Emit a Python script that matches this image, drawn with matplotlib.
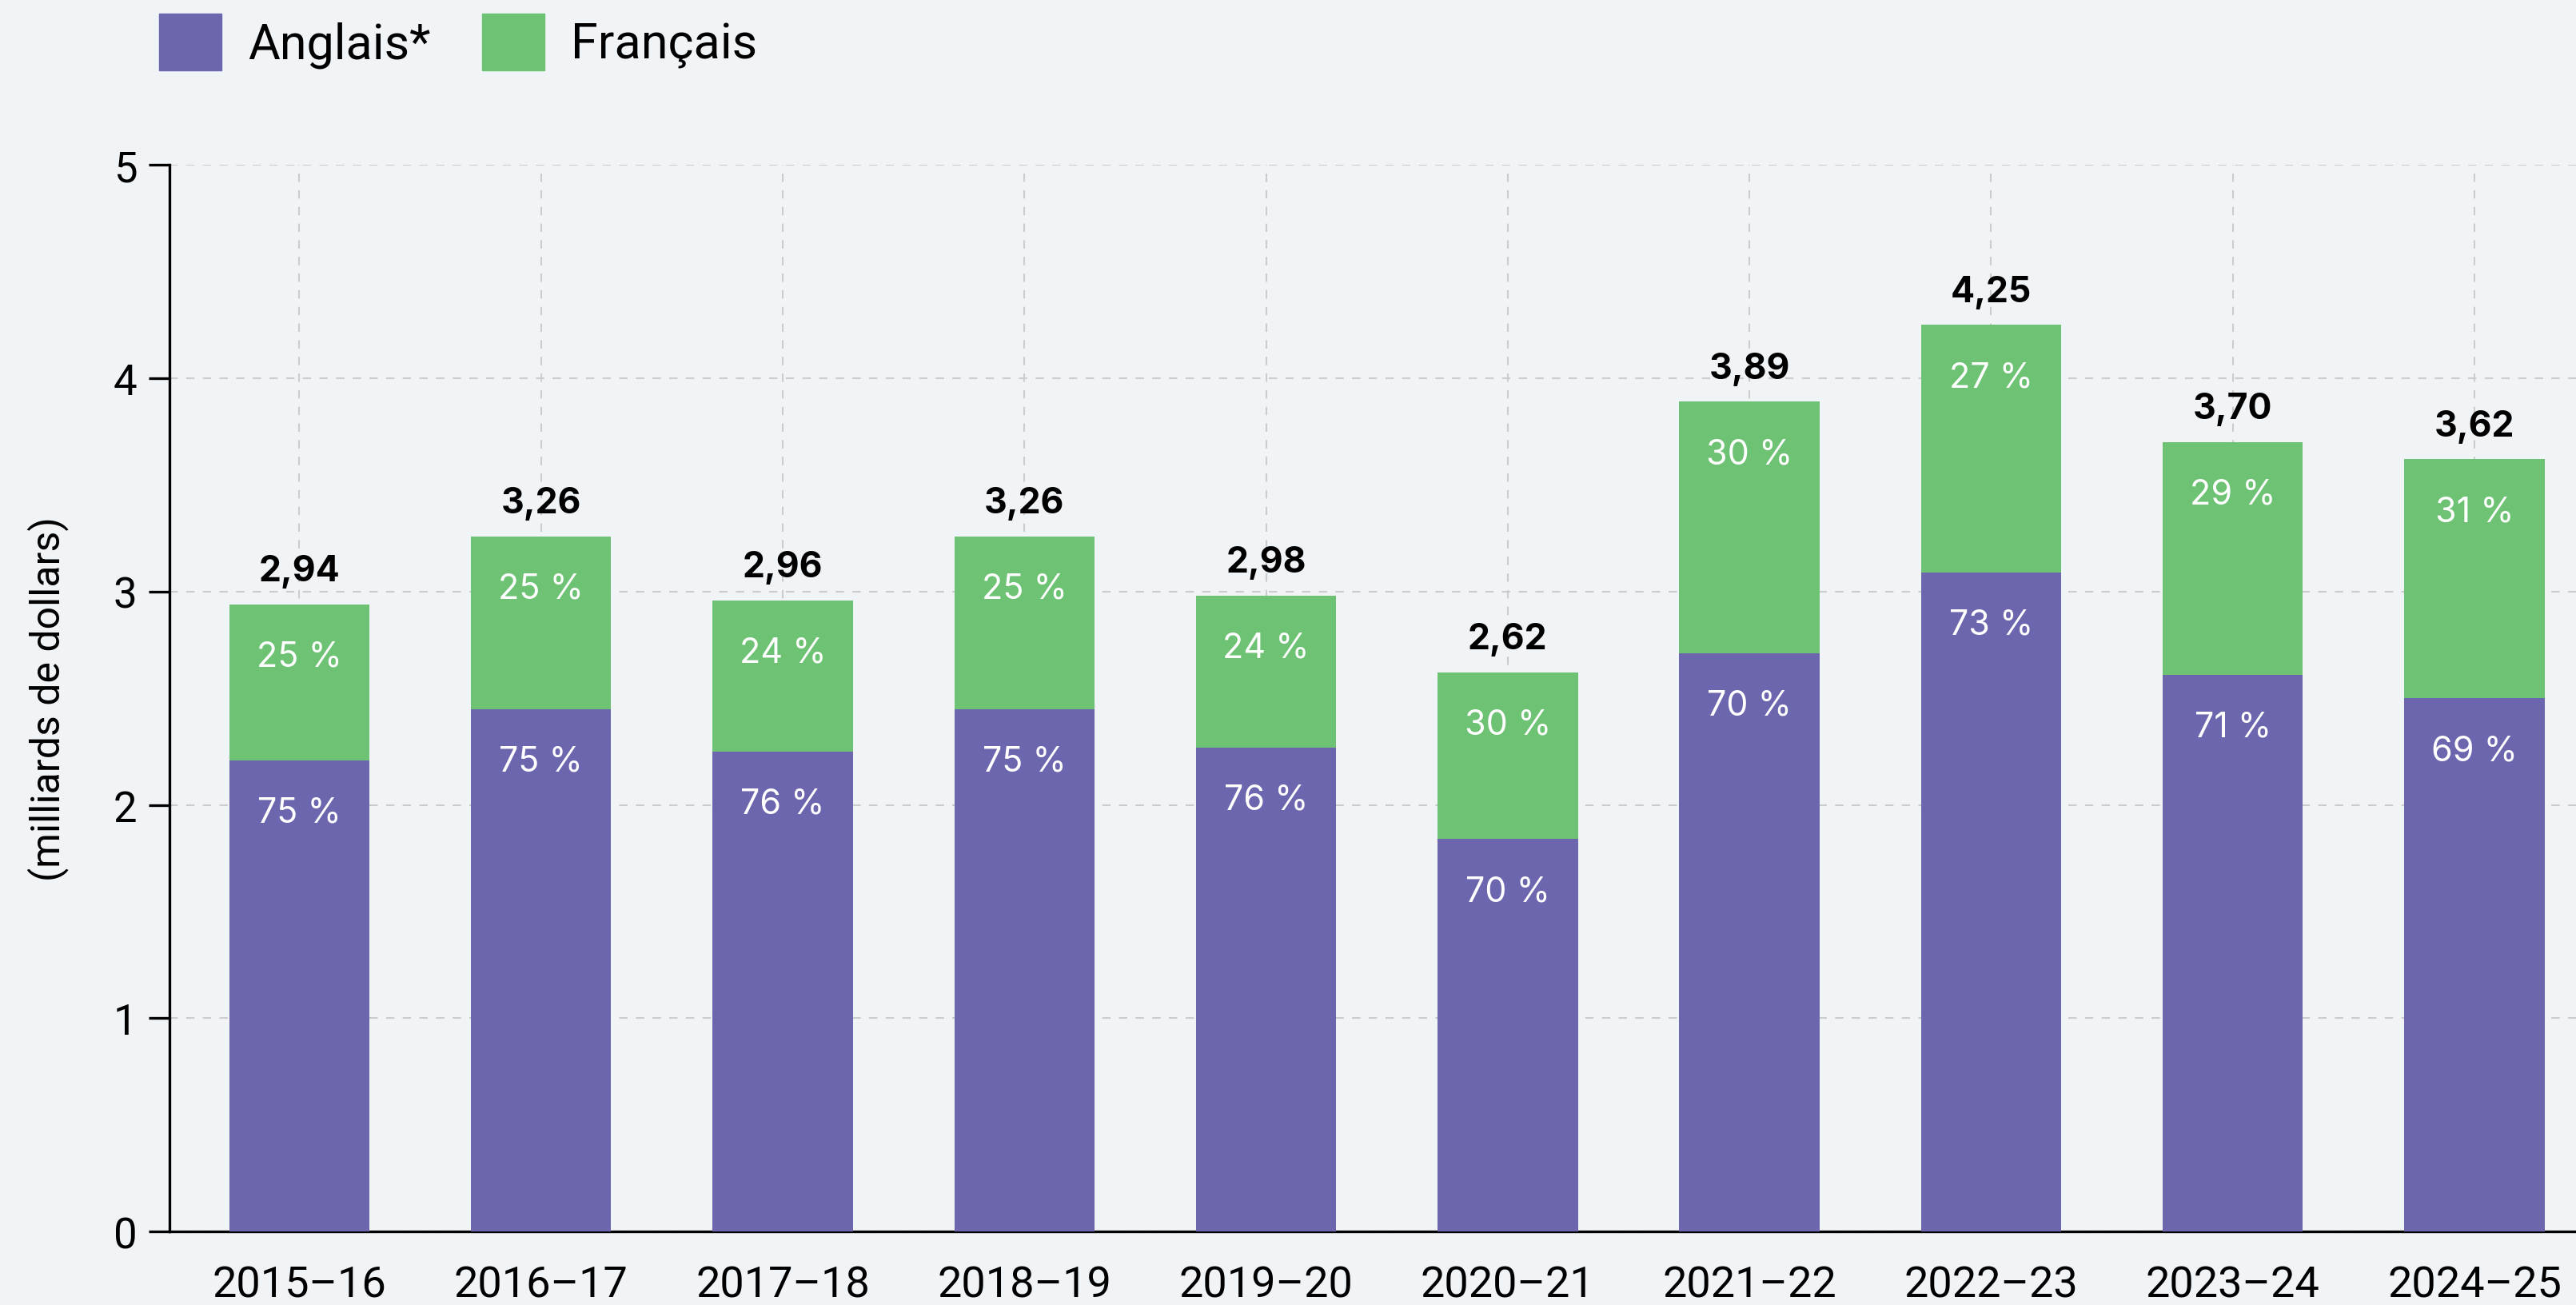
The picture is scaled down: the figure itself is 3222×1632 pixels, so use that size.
import numpy as np
import matplotlib
matplotlib.use('Agg')
import matplotlib.pyplot as plt
from matplotlib.patches import Patch

annees = ['2015–16', '2016–17', '2017–18', '2018–19', '2019–20',
          '2020–21', '2021–22', '2022–23', '2023–24', '2024–25']
totaux = [2.94, 3.26, 2.96, 3.26, 2.98, 2.62, 3.89, 4.25, 3.70, 3.62]
anglais = [2.21, 2.45, 2.25, 2.45, 2.27, 1.84, 2.71, 3.09, 2.61, 2.50]
francais = [0.73, 0.81, 0.71, 0.81, 0.71, 0.78, 1.18, 1.16, 1.09, 1.12]
pct_anglais = [75, 75, 76, 75, 76, 70, 70, 73, 71, 69]
pct_francais = [25, 25, 24, 25, 24, 30, 30, 27, 29, 31]

violet = '#6B66AD'
vert = '#6DC274'
fond = '#F0F4F7'

plt.rcParams['font.family'] = ['Roboto', 'DejaVu Sans']

fig = plt.figure(figsize=(32.22, 16.33), dpi=100, facecolor=fond)
ax = fig.add_axes([0.0658, 0.0563, 0.9342, 0.8167])
ax.set_facecolor(fond)

x = np.arange(len(annees))
largeur = 0.58
b1 = ax.bar(x, anglais, largeur, color=violet, zorder=3)
b2 = ax.bar(x, francais, largeur, bottom=anglais, color=vert, zorder=3)

for i in range(len(x)):
    ax.annotate(f"{totaux[i]:.2f}".replace('.', ','), (x[i], anglais[i] + francais[i]),
                xytext=(0, 15), textcoords='offset points', ha='center', va='bottom',
                fontsize=32, fontweight='bold', family='Inter', color='black')
    ax.annotate(f"{pct_francais[i]} %", (x[i], anglais[i] + francais[i]),
                xytext=(0, -47), textcoords='offset points', ha='center', va='center',
                fontsize=31, family='Inter', color='white', zorder=4)
    ax.annotate(f"{pct_anglais[i]} %", (x[i], anglais[i]),
                xytext=(0, -47), textcoords='offset points', ha='center', va='center',
                fontsize=31, family='Inter', color='white', zorder=4)

ax.set_xlim(-0.537, 9.42)
ax.set_ylim(0, 5)
ax.set_yticks([0, 1, 2, 3, 4, 5])
ax.set_xticks(x)
ax.set_xticklabels(annees)
ax.tick_params(axis='x', length=0, pad=30, labelsize=39)
ax.tick_params(axis='y', length=19, width=2.4, pad=10, labelsize=38)

ax.grid(True, color='#CCCCCC', linestyle=(0, (5, 5)), linewidth=1.5, zorder=0)
ax.set_axisbelow(True)

for s in ['top', 'right']:
    ax.spines[s].set_visible(False)
for s in ['left', 'bottom']:
    ax.spines[s].set_linewidth(2.4)

ax.set_ylabel('(milliards de dollars)', fontsize=36)
ax.yaxis.set_label_coords(-0.042, 0.5)

poignees = [Patch(color=violet, label='Anglais*'), Patch(color=vert, label='Français')]
fig.legend(handles=poignees, loc='upper left', bbox_to_anchor=(199 / 3222, 1 - 18 / 1633),
           ncol=2, frameon=False, fontsize=44, handlelength=1.27, handleheight=1.42,
           handletextpad=0.55, columnspacing=1.05, borderpad=0, borderaxespad=0)

fig.savefig('out.png', dpi=100, facecolor=fond)
